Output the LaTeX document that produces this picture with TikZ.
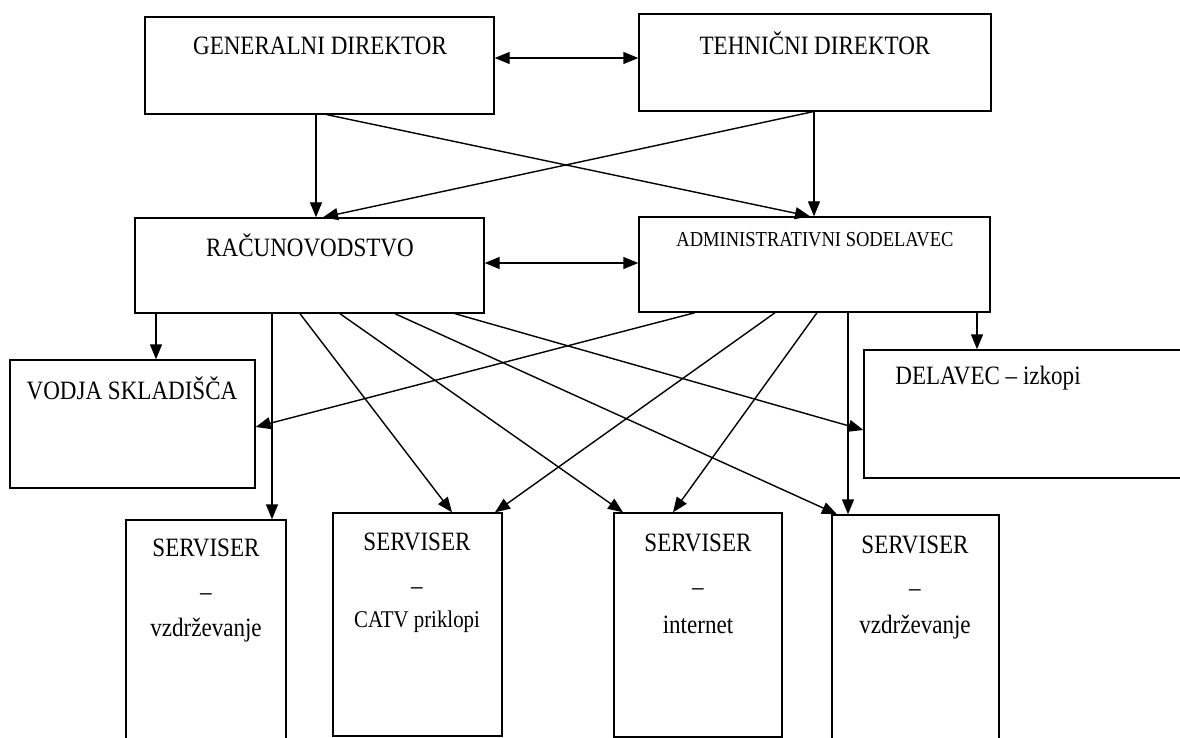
\documentclass[tikz,border=0pt]{standalone}
\usepackage{fontspec}
\setmainfont[FakeStretch=0.87]{Liberation Serif}
\usetikzlibrary{arrows.meta,fit}
\tikzset{
  box/.style={draw, line width=1.4pt, inner sep=0pt, rectangle},
  lbl/.style={inner sep=0pt, font=\fontsize{26.5}{30}\selectfont},
  mlbl/.style={inner sep=0pt, font=\fontsize{24}{28}\selectfont},
  slbl/.style={inner sep=0pt, font=\fontsize{21.3}{25}\selectfont},
  conn/.style={line width=1.4pt, -{Triangle[length=15pt,width=12pt]}},
  bconn/.style={line width=1.4pt, {Triangle[length=15pt,width=12pt]}-{Triangle[length=15pt,width=12pt]}}
}
\begin{document}
\begin{tikzpicture}[x=1pt,y=-1pt]
\useasboundingbox (0,0) rectangle (1180,738);
\fill[white] (0,0) rectangle (1180,738);
% boxes
\node[box, fit={(145,17)(494,114)}] (gd) {};
\node[box, fit={(639,14)(991,111)}] (td) {};
\node[box, fit={(135,218)(484,313)}] (rac) {};
\node[box, fit={(639,217)(990,312)}] (as) {};
\node[box, fit={(10,360)(255,488)}] (vod) {};
\node[box, fit={(864,350)(1195,478)}] (del) {};
\node[box, fit={(126,520)(286,750)}] (s1) {};
\node[box, fit={(333,513)(502,736)}] (s2) {};
\node[box, fit={(614,513)(782,737)}] (s3) {};
\node[box, fit={(832,515)(999,750)}] (s4) {};
% texts
\node[lbl] (tgd) at (320,46) {GENERALNI DIREKTOR};
\node[lbl] (ttd) at (815,43) {TEHNIČNI DIREKTOR};
\node[lbl] (trac) at (310,245) {RAČUNOVODSTVO};
\node[slbl] (tas) at (815,240) {ADMINISTRATIVNI SODELAVEC};
\node[lbl] (tvod) at (132,388) {VODJA SKLADIŠČA};
\node[lbl] (tdel) at (988,378) {DELAVEC – izkopi};
\node[lbl] (ts1a) at (206,548) {SERVISER};
\node[lbl] (ts1b) at (206,597) {–};
\node[lbl] (ts1c) at (206,630) {vzdrževanje};
\node[lbl] (ts2a) at (417,542) {SERVISER};
\node[lbl] (ts2b) at (417,591) {–};
\node[mlbl] (ts2c) at (417,622) {CATV priklopi};
\node[lbl] (ts3a) at (698,543) {SERVISER};
\node[lbl] (ts3b) at (698,592) {–};
\node[lbl] (ts3c) at (698,625) {internet};
\node[lbl] (ts4a) at (915,545) {SERVISER};
\node[lbl] (ts4b) at (915,593) {–};
\node[lbl] (ts4c) at (915,627) {vzdrževanje};
% connectors
\draw[bconn] (gd.east |- 0,58) -- (td.west |- 0,58);
\draw[conn] (316,0 |- gd.south) -- (316,0 |- rac.north);
\draw[conn] (327,0 |- gd.south) -- (810,0 |- as.north);
\draw[conn] (813,0 |- td.south) -- (323,0 |- rac.north);
\draw[conn] (814,0 |- td.south) -- (814,0 |- as.north);
\draw[bconn] (rac.east |- 0,263) -- (as.west |- 0,263);
\draw[conn] (156,0 |- rac.south) -- (156,0 |- vod.north);
\draw[conn] (272,0 |- rac.south) -- (272,0 |- s1.north);
\draw[conn] (300,0 |- rac.south) -- (452,0 |- s2.north);
\draw[conn] (340,0 |- rac.south) -- (623,0 |- s3.north);
\draw[conn] (395,0 |- rac.south) -- (837,0 |- s4.north);
\draw[conn] (455,0 |- rac.south) -- (del.west |- 0,430);
\draw[conn] (695,0 |- as.south) -- (vod.east |- 0,427);
\draw[conn] (775,0 |- as.south) -- (495,0 |- s2.north);
\draw[conn] (817,0 |- as.south) -- (673,0 |- s3.north);
\draw[conn] (848,0 |- as.south) -- (848,0 |- s4.north);
\draw[conn] (977,0 |- as.south) -- (977,0 |- del.north);
\end{tikzpicture}
\end{document}
